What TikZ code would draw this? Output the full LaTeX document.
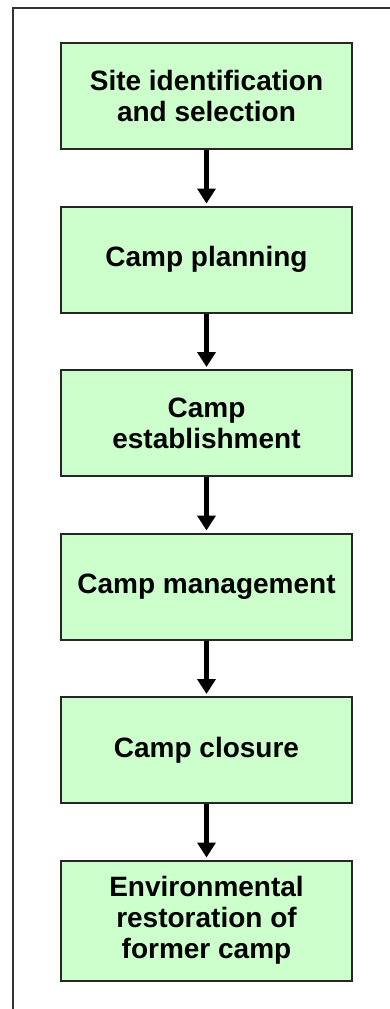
\documentclass[tikz,border=0pt]{standalone}
\usepackage{fontspec}
\setmainfont{Liberation Sans}
\usepackage{tikz}
\usetikzlibrary{positioning, arrows.meta}

\definecolor{boxgreen}{RGB}{204,255,204}

\begin{document}
\begin{tikzpicture}[x=1pt, y=1pt,
    stage/.style={draw=black!85, line width=2pt, fill=boxgreen, minimum width=291pt,
      minimum height=106pt, align=center, inner sep=0pt,
      font=\fontsize{28}{31}\selectfont\bfseries},
    flow/.style={line width=5pt, -{Triangle[width=18pt, length=15pt]}, shorten >=2pt},
    node distance=55.5pt]
    \path[use as bounding box] (0,0) rectangle (390,-1009);
    % outer frame, only top and left edges show
    \draw[line width=1.5pt, black!80] (13,-1009) -- (13,-8) -- (390,-8);
    \node[stage] (site) at (206.5,-96) {Site identification\\and selection};
    \node[stage, below=of site] (plan) {Camp planning};
    \node[stage, below=of plan] (estab) {Camp\\establishment};
    \node[stage, below=of estab] (manage) {Camp management};
    \node[stage, below=of manage] (close) {Camp closure};
    \node[stage, below=of close, minimum height=120pt] (restore) {Environmental\\restoration of\\former camp};
    \draw[flow] (site) -- (plan);
    \draw[flow] (plan) -- (estab);
    \draw[flow] (estab) -- (manage);
    \draw[flow] (manage) -- (close);
    \draw[flow] (close) -- (restore);
\end{tikzpicture}
\end{document}
